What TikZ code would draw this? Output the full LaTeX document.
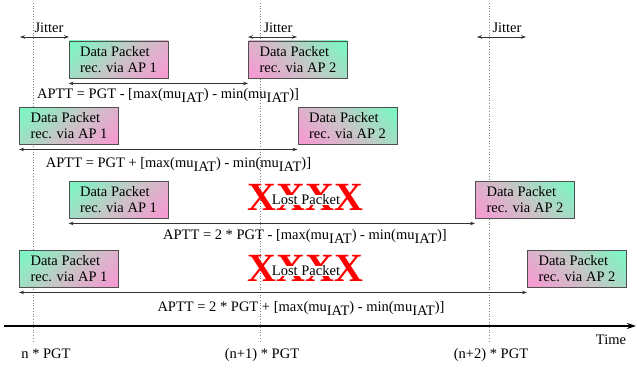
\documentclass[tikz,border=0pt]{standalone}
\usepackage{fontspec}
\setmainfont{Liberation Serif}
\usetikzlibrary{arrows.meta}
\definecolor{boxgreen}{RGB}{125,245,195}
\definecolor{boxpink}{RGB}{245,155,210}
\definecolor{boxgray}{RGB}{198,198,198}
\definecolor{boxline}{RGB}{80,80,80}
\pgfdeclareverticalshading{pktshade}{100bp}{color(0bp)=(boxpink); color(18bp)=(boxpink); color(50bp)=(boxgray); color(82bp)=(boxgreen); color(100bp)=(boxgreen)}
\newcommand{\sbIAT}{\raisebox{-4.5pt}{IAT}}
\tikzset{
  pktbase/.style={draw=boxline, line width=0.9pt, minimum width=99pt, minimum height=37pt,
    inner sep=0pt, align=left, font=\fontsize{14.5}{16}\selectfont, shading=pktshade},
  pktone/.style={pktbase, shading angle=45},
  pkttwo/.style={pktbase, shading angle=-45},
  txt/.style={font=\fontsize{14.5}{16}\selectfont, inner sep=0pt, anchor=base},
  grid/.style={gray, dotted, line width=0.7pt},
  dbl/.style={{Stealth[length=5pt,width=3.5pt]}-{Stealth[length=5pt,width=3.5pt]}, line width=0.8pt, black!80},
  lostx/.style={text=red, font=\fontsize{40}{40}\bfseries\selectfont, inner sep=0pt},
  lostt/.style={fill=white, font=\fontsize{14.5}{16}\selectfont, inner sep=0.3pt}
}
\begin{document}
\begin{tikzpicture}[x=1pt,y=-1pt]
\useasboundingbox (0,0) rectangle (637,369);
% grid lines
\coordinate (g1t) at (33,3); \coordinate (g1b) at (33,343);
\coordinate (g2t) at (260,3); \coordinate (g2b) at (260,343);
\coordinate (g3t) at (489,3); \coordinate (g3b) at (489,343);
\draw[grid] (g1t) -- (g1b);
\draw[grid] (g2t) -- (g2b);
\draw[grid] (g3t) -- (g3b);
% jitter
\coordinate (j1a) at (20,37); \coordinate (j1b) at (69,37);
\coordinate (j2a) at (248,37); \coordinate (j2b) at (297,37);
\coordinate (j3a) at (477,37); \coordinate (j3b) at (526,37);
\draw[dbl] (j1a) -- (j1b);
\draw[dbl] (j2a) -- (j2b);
\draw[dbl] (j3a) -- (j3b);
\node[txt] (jt1) at (49,33) {Jitter};
\node[txt] (jt2) at (278,33) {Jitter};
\node[txt] (jt3) at (507,33) {Jitter};
% row 1
\node[pktone] (a1) at (118.5,59.5) {Data Packet\\rec. via AP 1};
\node[pkttwo] (b1) at (298,59.5) {Data Packet\\rec. via AP 2};
\draw[dbl] ([yshift=-5pt]a1.south west) -- ([yshift=-5pt]b1.south west);
\node[txt] (t1) at (168,98.5) {APTT = PGT - [max(mu\sbIAT) - min(mu\sbIAT)]};
% row 2
\node[pktone] (a2) at (69,125.5) {Data Packet\\rec. via AP 1};
\node[pkttwo] (b2) at (347.5,125.5) {Data Packet\\rec. via AP 2};
\draw[dbl] ([yshift=-5pt]a2.south west) -- ([yshift=-5pt]b2.south west);
\node[txt] (t2) at (178.5,167) {APTT = PGT + [max(mu\sbIAT) - min(mu\sbIAT)]};
% row 3
\node[pktone] (a3) at (118.5,199.5) {Data Packet\\rec. via AP 1};
\node[pkttwo] (b3) at (525,199.5) {Data Packet\\rec. via AP 2};
\node[lostx] (x3) at (305.5,197) {XXXX};
\node[lostt] (l3) at (306,200) {Lost Packet};
\draw[dbl] ([yshift=-5pt]a3.south west) -- ([yshift=-5pt]b3.south west);
\node[txt] (t3) at (305,239) {APTT = 2 * PGT - [max(mu\sbIAT) - min(mu\sbIAT)]};
% row 4
\node[pktone] (a4) at (69,268.5) {Data Packet\\rec. via AP 1};
\node[pkttwo] (b4) at (577,268.5) {Data Packet\\rec. via AP 2};
\node[lostx] (x4) at (305.5,268) {XXXX};
\node[lostt] (l4) at (306,271) {Lost Packet};
\draw[dbl] ([yshift=-5pt]a4.south west) -- ([yshift=-5pt]b4.south west);
\node[txt] (t4) at (301,311) {APTT = 2 * PGT + [max(mu\sbIAT) - min(mu\sbIAT)]};
% time axis
\coordinate (ta) at (4,326); \coordinate (tb) at (636,326);
\draw[line width=1.5pt, -{Stealth[length=9pt,width=6pt]}] (ta) -- (tb);
\node[txt] (time) at (611,344) {Time};
\node[txt] (p1) at (46,358) {n * PGT};
\node[txt] (p2) at (262,358) {(n+1) * PGT};
\node[txt] (p3) at (491,358) {(n+2) * PGT};
\end{tikzpicture}
\end{document}
